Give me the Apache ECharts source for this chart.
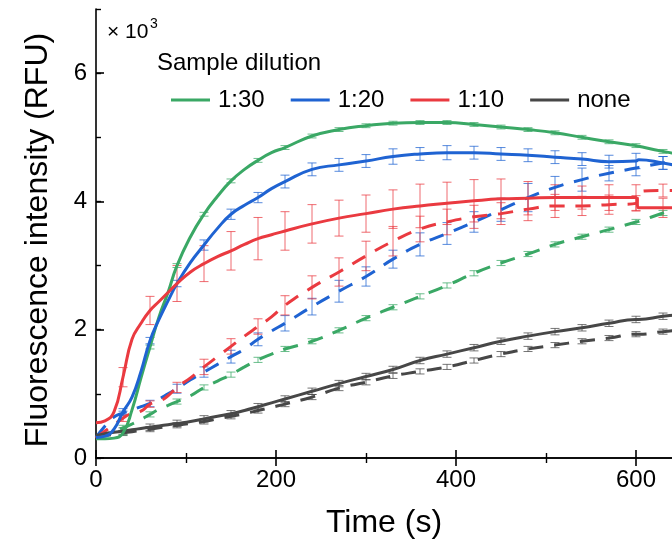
<!DOCTYPE html>
<html>
<head>
<meta charset="utf-8">
<script src="https://cdn.jsdelivr.net/npm/echarts@6/dist/echarts.min.js"></script>
<style>html,body{margin:0;padding:0;background:#fff;overflow:hidden;width:672px;height:549px}#c{width:740px;height:549px}</style>
</head>
<body>
<div id="c"></div>
<script>
// time points (s)
const T = [0,10,20,30,40,50,60,70,80,90,105,120,135,150,165,180,195,210,240,270,300,330,360,390,420,450,480,510,540,570,600,603,630,645];
// fluorescence (x10^3 RFU), solid lines
const green30 = [0.30,0.30,0.31,0.39,0.75,1.25,1.73,2.20,2.58,3.00,3.45,3.80,4.08,4.32,4.50,4.64,4.76,4.84,5.02,5.12,5.18,5.22,5.23,5.23,5.20,5.16,5.12,5.07,5.00,4.93,4.87,4.86,4.78,4.74];
const blue20 = [0.32,0.34,0.45,0.72,0.95,1.35,1.83,2.16,2.45,2.72,3.05,3.32,3.58,3.80,3.94,4.06,4.20,4.31,4.50,4.57,4.63,4.70,4.74,4.76,4.76,4.74,4.72,4.69,4.66,4.62,4.63,4.65,4.60,4.56];
const red10 = [0.55,0.58,0.72,1.26,1.85,2.10,2.30,2.44,2.58,2.72,2.90,3.03,3.14,3.23,3.33,3.42,3.48,3.54,3.65,3.74,3.81,3.88,3.93,3.97,4.01,4.04,4.05,4.06,4.06,4.06,4.06,3.90,3.90,3.90];
const none = [0.35,0.38,0.40,0.42,0.44,0.46,0.48,0.50,0.52,0.54,0.57,0.61,0.65,0.69,0.74,0.80,0.86,0.92,1.04,1.16,1.27,1.38,1.52,1.62,1.72,1.82,1.90,1.97,2.03,2.10,2.16,2.16,2.21,2.23];
// dashed lines
const green30d = [0.30,0.36,0.42,0.47,0.53,0.60,0.68,0.76,0.82,0.88,0.97,1.10,1.20,1.30,1.42,1.53,1.62,1.70,1.82,1.99,2.18,2.35,2.52,2.69,2.88,3.04,3.18,3.33,3.45,3.56,3.68,3.69,3.82,3.90];
const blue20d = [0.32,0.50,0.64,0.70,0.75,0.80,0.85,0.92,1.00,1.08,1.22,1.34,1.46,1.58,1.70,1.85,1.98,2.10,2.36,2.60,2.83,3.10,3.33,3.50,3.68,3.87,4.06,4.22,4.34,4.44,4.52,4.53,4.60,4.63];
const red10d = [0.31,0.42,0.52,0.62,0.70,0.73,0.84,0.88,0.97,1.10,1.25,1.42,1.58,1.74,1.90,2.05,2.20,2.38,2.66,2.90,3.15,3.38,3.57,3.68,3.76,3.81,3.88,3.93,3.93,3.95,3.97,4.15,4.17,4.17];
const noned = [0.33,0.35,0.37,0.39,0.41,0.43,0.45,0.47,0.49,0.51,0.54,0.57,0.61,0.65,0.69,0.74,0.79,0.84,0.95,1.09,1.18,1.28,1.35,1.42,1.52,1.62,1.70,1.76,1.82,1.87,1.93,1.93,1.97,1.99];
// error bar times and half-widths
const TE = [30,60,90,120,150,180,210,240,270,300,330,360,390,420,450,480,510,540,570,600,630];
const errGreen30 = [0.03,0.03,0.03,0.03,0.03,0.03,0.03,0.03,0.03,0.03,0.03,0.03,0.03,0.03,0.03,0.03,0.03,0.03,0.03,0.03,0.03];
const errBlue20 = [0.05,0.05,0.05,0.08,0.08,0.08,0.10,0.10,0.10,0.10,0.12,0.10,0.11,0.10,0.10,0.10,0.10,0.10,0.10,0.12,0.10];
const errRed10 = [0.15,0.22,0.28,0.28,0.30,0.33,0.30,0.30,0.28,0.29,0.30,0.34,0.33,0.33,0.31,0.26,0.20,0.18,0.20,0.20,0.15];
const errNone = [0.05,0.05,0.05,0.05,0.05,0.05,0.05,0.05,0.05,0.05,0.05,0.05,0.05,0.05,0.05,0.05,0.05,0.05,0.05,0.05,0.05];
const errGreen30d = [0.04,0.04,0.04,0.04,0.04,0.04,0.04,0.04,0.04,0.04,0.04,0.04,0.04,0.04,0.04,0.04,0.04,0.04,0.04,0.04,0.04];
const errBlue20d = [0.03,0.05,0.07,0.08,0.10,0.10,0.12,0.13,0.17,0.15,0.14,0.18,0.17,0.16,0.18,0.22,0.17,0.18,0.12,0.12,0.10];
const errRed10d = [0.05,0.05,0.08,0.12,0.12,0.12,0.15,0.18,0.22,0.23,0.23,0.20,0.20,0.18,0.17,0.18,0.18,0.15,0.15,0.12,0.10];
const errNoned = [0.04,0.04,0.04,0.04,0.04,0.04,0.04,0.04,0.04,0.04,0.04,0.04,0.04,0.04,0.04,0.04,0.04,0.04,0.04,0.04,0.04];
const legendNames = ['1:30','1:20','1:10','none'];
const xTicks = [0,200,400,600];
const yTicks = [0,2,4,6];

const C = {g:'#3aa865', b:'#1f63d2', r:'#ea3a40', k:'#474747'};
const FONT = "'Liberation Sans', Arial, sans-serif";

function pairs(v){ return T.map((t,i)=>[t,v[i]]); }
function errData(v, e){ return TE.map((t,i)=>{ const y=v[T.indexOf(t)]; return [t, y-e[i], y+e[i]]; }); }

function lineSeries(name, v, color, dashed){
  return {type:'line', name:name, data:pairs(v), symbol:'none', smooth:0.5,
    lineStyle:{color:color, width:3, type: dashed ? [15,11] : 'solid'}, itemStyle:{color:color}, z:3};
}
function errSeries(v, e, color){
  return {type:'custom', data:errData(v,e), encode:{x:0,y:[1,2]}, z:2, silent:true, clip:true,
    renderItem:function(params, api){
      const x=api.value(0), lo=api.value(1), hi=api.value(2);
      const p1=api.coord([x,lo]), p2=api.coord([x,hi]);
      const w=4.5, st={stroke:color, lineWidth:1, opacity:0.75};
      return {type:'group', children:[
        {type:'line', shape:{x1:p1[0],y1:p1[1],x2:p2[0],y2:p2[1]}, style:st},
        {type:'line', shape:{x1:p1[0]-w,y1:p1[1],x2:p1[0]+w,y2:p1[1]}, style:st},
        {type:'line', shape:{x1:p2[0]-w,y1:p2[1],x2:p2[0]+w,y2:p2[1]}, style:st}
      ]};
    }};
}

const axisLine = {show:true, lineStyle:{color:'#000', width:1.6}};
const chart = echarts.init(document.getElementById('c'), null, {renderer:'canvas'});
chart.setOption({
  animation:false,
  backgroundColor:'#fff',
  grid:{left:96, top:9, width:630, height:449},
  xAxis:[
    {type:'value', min:0, max:700, interval:200, position:'bottom', axisLine:axisLine,
     axisTick:{inside:true, length:8, lineStyle:{color:'#000', width:1.6}},
     minorTick:{show:true, splitNumber:2, length:5, lineStyle:{color:'#000', width:1.4}},
     splitLine:{show:false}, minorSplitLine:{show:false},
     axisLabel:{fontSize:24, fontFamily:FONT, color:'#000', margin:10,
       formatter:function(v){ return xTicks.indexOf(v)>=0 ? String(v) : ''; }}},
    {type:'value', min:0, max:700, interval:200, position:'top', axisLine:axisLine,
     axisTick:{inside:true, length:8, lineStyle:{color:'#000', width:1.6}},
     minorTick:{show:true, splitNumber:2, length:5, lineStyle:{color:'#000', width:1.4}},
     splitLine:{show:false}, axisLabel:{show:false}}
  ],
  yAxis:[
    {type:'value', min:0, max:7, interval:2, position:'left', axisLine:axisLine,
     axisTick:{inside:true, length:8, lineStyle:{color:'#000', width:1.6}},
     splitLine:{show:false},
     axisLabel:{fontSize:24, fontFamily:FONT, color:'#000', margin:9, showMaxLabel:false,
       formatter:function(v){ return yTicks.indexOf(v)>=0 ? String(v) : ''; }}},
    {type:'value', min:0, max:7, interval:1, position:'left', axisLine:{show:false},
     axisTick:{inside:true, length:5, lineStyle:{color:'#000', width:1.4}},
     splitLine:{show:false}, axisLabel:{show:false}}
  ],
  legend:{data:legendNames, left:166, top:83, orient:'horizontal', icon:'rect', itemWidth:39, itemHeight:3,
    itemGap:26, textStyle:{fontSize:24, fontFamily:FONT, color:'#000', padding:[0,0,0,3]}, selectedMode:false},
  graphic:[
    {type:'text', x:107, y:32, style:{text:'× 10', fontSize:21, fontFamily:FONT, fill:'#000', textVerticalAlign:'middle'}},
    {type:'text', x:150, y:24, style:{text:'3', fontSize:14, fontFamily:FONT, fill:'#000', textVerticalAlign:'middle'}},
    {type:'text', x:157, y:63, style:{text:'Sample dilution', fontSize:24, fontFamily:FONT, fill:'#000', textVerticalAlign:'middle'}},
    {type:'text', x:384, y:523, style:{text:'Time (s)', fontSize:32, fontFamily:FONT, fill:'#000', textAlign:'center', textVerticalAlign:'middle'}},
    {type:'text', x:38, y:240, rotation:Math.PI/2, style:{text:'Fluorescence intensity (RFU)', fontSize:32, fontFamily:FONT, fill:'#000', textAlign:'center', textVerticalAlign:'middle'}}
  ],
  series:[
    errSeries(none, errNone, C.k), errSeries(noned, errNoned, C.k),
    errSeries(green30d, errGreen30d, C.g), errSeries(blue20d, errBlue20d, C.b), errSeries(red10d, errRed10d, C.r),
    errSeries(green30, errGreen30, C.g), errSeries(blue20, errBlue20, C.b), errSeries(red10, errRed10, C.r),
    lineSeries('none d', noned, C.k, true),
    lineSeries('1:30 d', green30d, C.g, true),
    lineSeries('1:20 d', blue20d, C.b, true),
    lineSeries('1:10 d', red10d, C.r, true),
    lineSeries('none', none, C.k, false),
    lineSeries('1:30', green30, C.g, false),
    lineSeries('1:20', blue20, C.b, false),
    lineSeries('1:10', red10, C.r, false)
  ]
});
</script>
</body>
</html>
